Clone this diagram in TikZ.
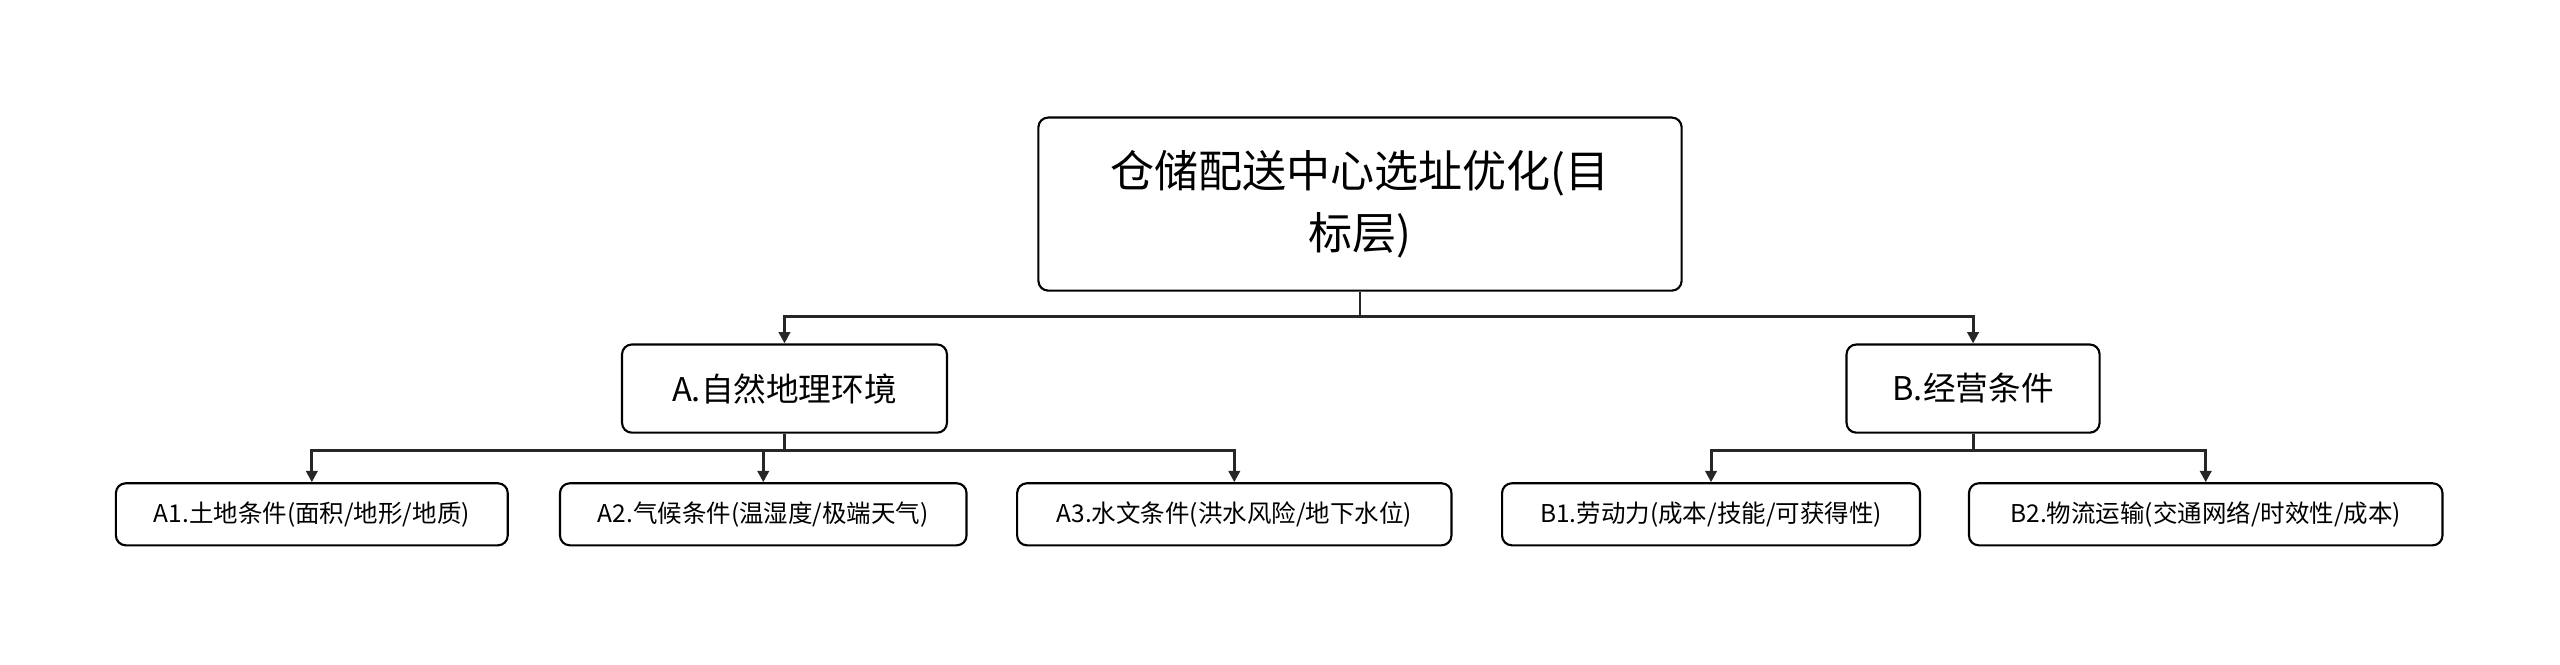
\documentclass[tikz,border=0pt]{standalone}
\usepackage{fontspec}
\setmainfont{Noto Sans CJK SC}
\usetikzlibrary{arrows.meta}
\tikzset{
  box/.style={draw, rounded corners=6pt, line width=1.3pt, align=center, inner sep=0pt},
  link/.style={line width=1.8pt, draw=black!85},
  arr/.style={link, -{Triangle[length=7pt,width=7pt]}}
}
\begin{document}
\begin{tikzpicture}[x=1pt,y=-1pt]
		\useasboundingbox (0,0) rectangle (1568,407);
		
		% levels
		\node[box, minimum width=394pt, minimum height=106pt, font=\fontsize{27}{38}\selectfont]
		(goal) at (833,125) {仓储配送中心选址优化(目\\标层)};
		
		\node[box, minimum width=199pt, minimum height=54pt, font=\fontsize{20}{24}\selectfont]
		(natA) at (480.5,238) {A.自然地理环境};
		\node[box, minimum width=155pt, minimum height=54pt, font=\fontsize{20}{24}\selectfont]
		(bizB) at (1208.5,238) {B.经营条件};
		
		\node[box, minimum width=240pt, minimum height=38pt, font=\fontsize{15}{18}\selectfont]
		(a1) at (191,315) {A1.土地条件(面积/地形/地质)};
		\node[box, minimum width=249pt, minimum height=38pt, font=\fontsize{15}{18}\selectfont]
		(a2) at (467.5,315) {A2.气候条件(温湿度/极端天气)};
		\node[box, minimum width=266pt, minimum height=38pt, font=\fontsize{15}{18}\selectfont]
		(a3) at (756,315) {A3.水文条件(洪水风险/地下水位)};
		\node[box, minimum width=256pt, minimum height=38pt, font=\fontsize{15}{18}\selectfont]
		(b1) at (1048,315) {B1.劳动力(成本/技能/可获得性)};
		\node[box, minimum width=290pt, minimum height=38pt, font=\fontsize{15}{18}\selectfont]
		(b2) at (1351,315) {B2.物流运输(交通网络/时效性/成本)};
		
		% Edges...
		\coordinate (gj) at (833,194);
		\coordinate (aj) at (480.5,276);
		\coordinate (bj) at (1208.5,276);
		
		\draw[link] (goal.south) -- (gj);
		\draw[arr] (gj) -| (natA.north);
		\draw[arr] (gj) -| (bizB.north);
		
		\draw[link] (natA.south) -- (aj);
		\foreach \leaf in {a1,a2,a3}
			\draw[arr] (aj) -| (\leaf.north);
		
		\draw[link] (bizB.south) -- (bj);
		\foreach \leaf in {b1,b2}
			\draw[arr] (bj) -| (\leaf.north);
		
	\end{tikzpicture}
\end{document}
